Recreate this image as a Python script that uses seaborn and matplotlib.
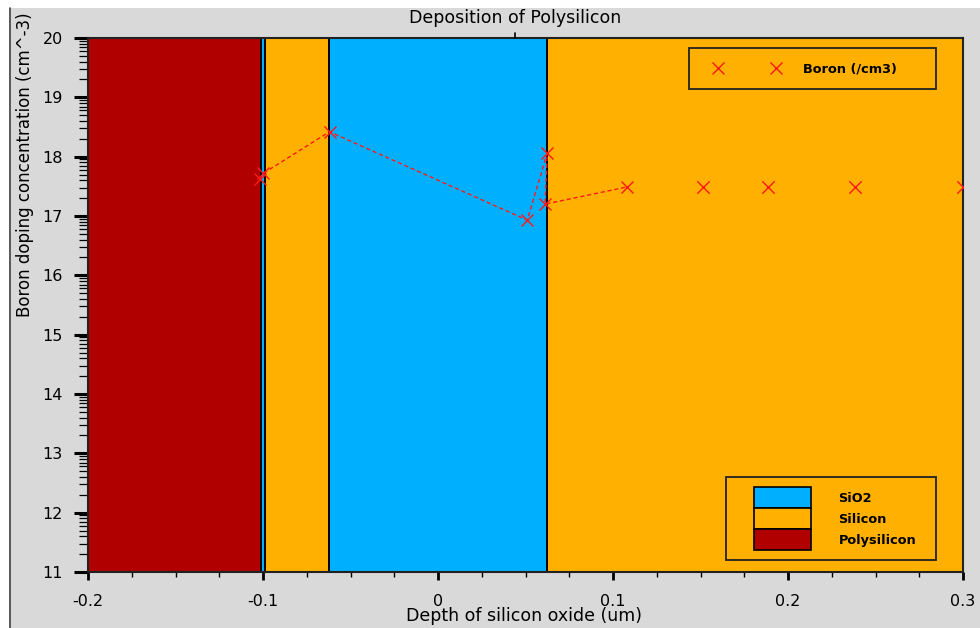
import matplotlib
matplotlib.use("Agg")
import matplotlib.pyplot as plt
from matplotlib.patches import Patch, Rectangle
from matplotlib.lines import Line2D
from matplotlib.ticker import FixedLocator, MultipleLocator
import numpy as np
import seaborn as sns

# Material stack, left to right (depth in um)
layer_names = ["Polysilicon", "SiO2", "Silicon", "SiO2", "Silicon"]
layer_edges = [-0.2, -0.1012, -0.0990, -0.0623, 0.0623, 0.3]
material_colors = {"SiO2": "#00b0ff", "Silicon": "#ffb000", "Polysilicon": "#b00000"}
material_legend = ["SiO2", "Silicon", "Polysilicon"]

# Boron profile, log10 of concentration (cm^-3)
profile_depth = [-0.1015, -0.0998, -0.0620, 0.0510, 0.0624, 0.0612, 0.1080]
profile_log_conc = [17.62, 17.72, 18.42, 16.93, 18.06, 17.20, 17.49]
bulk_depth = [0.1514, 0.1886, 0.2383, 0.3000]
bulk_log_conc = [17.49, 17.49, 17.49, 17.49]

x_ticks = [-0.2, -0.1, 0.0, 0.1, 0.2, 0.3]
x_tick_labels = ["-0.2", "-0.1", "0", "0.1", "0.2", "0.3"]
y_ticks = list(range(11, 21))

sns.set_style("white")
plt.rcParams["font.family"] = ["DejaVu Sans"]
plt.rcParams["text.color"] = "black"
plt.rcParams["xtick.color"] = "black"
plt.rcParams["ytick.color"] = "black"
plt.rcParams["xtick.labelcolor"] = "black"
plt.rcParams["ytick.labelcolor"] = "black"

W, H = 980, 628
BG = "#d9d9d9"
RED = "#ff1a1a"

fig = plt.figure(figsize=(W / 100, H / 100), dpi=100, facecolor=BG)

# white margins and the frame line of the plot window
fig.patches.append(Rectangle((0, 1 - 8 / H), 1, 8 / H, transform=fig.transFigure,
                             facecolor="white", edgecolor="none", zorder=0))
fig.patches.append(Rectangle((0, 0), 9 / W, 1, transform=fig.transFigure,
                             facecolor="white", edgecolor="none", zorder=0))
fig.lines.append(Line2D([9.5 / W, 9.5 / W], [0, 1 - 8 / H], transform=fig.transFigure,
                        color="#444444", lw=1.2))

ax = fig.add_axes([88 / W, (H - 572) / H, 875 / W, 534 / H])
ax.set_xlim(layer_edges[0], layer_edges[-1])
ax.set_ylim(y_ticks[0], y_ticks[-1])

# material regions and their interfaces
for name, x0, x1 in zip(layer_names, layer_edges[:-1], layer_edges[1:]):
    ax.axvspan(x0, x1, color=material_colors[name], lw=0, zorder=0)
for xb in layer_edges[1:-1]:
    ax.axvline(xb, color="black", lw=1.4, zorder=1)

# boron profile
sns.lineplot(x=profile_depth, y=profile_log_conc, sort=False, estimator=None,
             color=RED, lw=1.0, linestyle=(0, (3, 2)), marker="x", markersize=9,
             markeredgewidth=1.0, markeredgecolor=RED, ax=ax, zorder=3)
sns.scatterplot(x=bulk_depth, y=bulk_log_conc, marker="x", s=80, color=RED,
                linewidths=1.0, ax=ax, zorder=3, clip_on=True)

# axes styling
for sp in ax.spines.values():
    sp.set_color("#222222")
    sp.set_linewidth(1.5)
ax.set_xticks(x_ticks)
ax.set_xticklabels(x_tick_labels)
ax.xaxis.set_minor_locator(MultipleLocator(0.025))
ax.set_yticks(y_ticks)
ax.set_yticklabels([str(v) for v in y_ticks])
minor_y = [n + np.log10(k) for n in y_ticks[:-1] for k in range(2, 10)]
ax.yaxis.set_minor_locator(FixedLocator(minor_y))
ax.tick_params(axis="y", which="major", direction="out", length=10, width=2.2,
               pad=8, labelsize=11.5, left=True)
ax.tick_params(axis="y", which="minor", direction="out", length=6.5, width=0.9,
               left=True)
ax.tick_params(axis="x", which="major", direction="out", length=5.5, width=2.0,
               pad=10, labelsize=11.5, bottom=True)
ax.tick_params(axis="x", which="minor", direction="out", length=3.6, width=1.0,
               bottom=True)
ax.set_xlabel("")
ax.set_ylabel("")

# titles and axis labels
fig.text(515 / W, 1 - 18 / H, "Deposition of Polysilicon", ha="center", va="center",
         fontsize=12.5, color="black")
fig.lines.append(Line2D([515 / W, 515 / W], [1 - 33 / H, 1 - 38 / H],
                        transform=fig.transFigure, color="black", lw=1.2))
fig.text(524 / W, 1 - 616 / H, "Depth of silicon oxide (um)", ha="center", va="center",
         fontsize=12.5, color="black")
fig.text(25 / W, 1 - 12 / H, "Boron doping concentration (cm^-3)", ha="center",
         va="top", rotation=90, fontsize=12, color="black")

# legend: boron series
fs_leg = 9.3
ax.add_patch(Rectangle((0.687, 0.9045), 0.282, 0.0768, transform=ax.transAxes,
                       facecolor="none", edgecolor="#222222", lw=1.3, zorder=4))
leg1 = ax.legend(handles=[Line2D([], [], color=RED, marker="x", ls="none",
                                 markersize=9, markeredgewidth=1.0)],
                 labels=["Boron (/cm3)"], numpoints=2, loc="center left",
                 bbox_to_anchor=((714 - 88) / 875, (572 - 69) / 534),
                 frameon=False, borderpad=0, borderaxespad=0,
                 handlelength=5.1, handletextpad=1.8,
                 prop={"size": fs_leg, "weight": "bold"}, labelcolor="black")
ax.add_artist(leg1)

# legend: materials
ax.add_patch(Rectangle((0.729, 0.0225), 0.24, 0.155, transform=ax.transAxes,
                       facecolor="none", edgecolor="#222222", lw=1.3, zorder=4))
mat_handles = [Patch(facecolor=material_colors[m], edgecolor="black", lw=1.2)
               for m in material_legend]
leg2 = ax.legend(handles=mat_handles, labels=material_legend, loc="upper left",
                 bbox_to_anchor=((754 - 88) / 875, (572 - 487) / 534),
                 frameon=False, borderpad=0, borderaxespad=0, labelspacing=0,
                 handlelength=4.4, handleheight=2.125, handletextpad=2.15,
                 prop={"size": fs_leg, "weight": "bold"}, labelcolor="black")

fig.savefig("out.png", dpi=100, facecolor=BG)
